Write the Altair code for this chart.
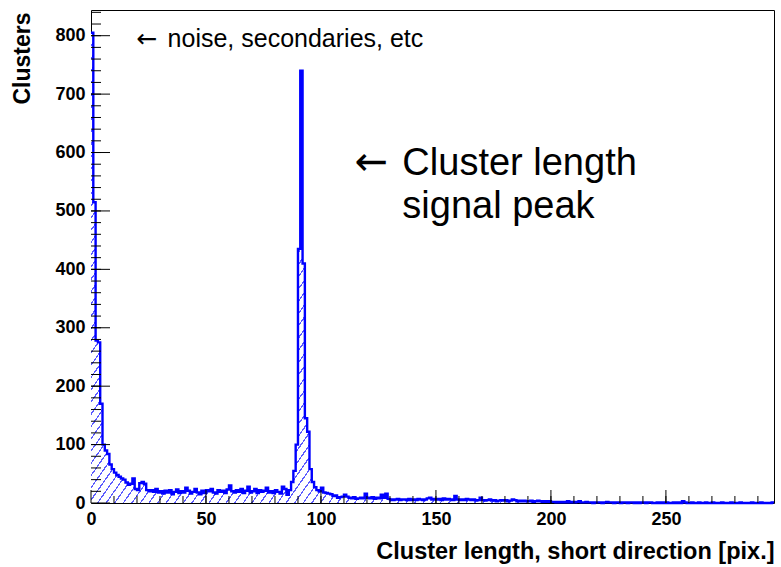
import altair as alt
import pandas as pd

# ---- histogram contents (bin width 1 pix, bins start at 0) ----
counts = [
    805, 515, 278, 275, 170, 100, 90, 84, 66, 58,      # 0-9
    52, 48, 45, 42, 40, 35, 31, 33, 42, 24,            # 10-19
    22, 34, 36, 33, 22, 20, 22, 19, 24, 18,            # 20-29
    20, 16, 21, 18, 22, 15, 19, 23, 17, 20,            # 30-39
    18, 26, 21, 16, 19, 24, 18, 15, 21, 17,            # 40-49
    22, 20, 24, 18, 16, 22, 19, 21, 17, 23,            # 50-59
    30, 20, 18, 22, 19, 24, 17, 21, 28, 18,            # 60-69
    20, 24, 17, 22, 19, 21, 26, 18, 20, 17,            # 70-79
    22, 19, 16, 28, 24, 14, 22, 36, 55, 100,           # 80-89
    435, 740, 410, 145, 122, 58, 36, 27, 22, 20,       # 90-99
    26, 18, 17, 16, 15, 12, 13, 9, 10, 11,             # 100-109
    14, 11, 9, 8, 10, 7, 8, 9, 8, 16,                  # 110-119
    9, 8, 10, 7, 9, 8, 14, 9, 16, 7,                   # 120-129
    6, 5, 6, 7, 5, 6, 6, 5, 7, 5,                      # 130-139
    6, 5, 7, 6, 5, 6, 8, 9, 6, 7,                      # 140-149
    6, 7, 5, 8, 6, 7, 6, 5, 12, 6,                     # 150-159
    5, 6, 5, 7, 6, 5, 6, 4, 5, 9,                      # 160-169
    5, 4, 5, 6, 4, 5, 3, 4, 5, 4,                      # 170-179
    5, 3, 4, 6, 5, 3, 4, 3, 4, 3,                      # 180-189
    3, 4, 2, 3, 4, 3, 2, 3, 2, 3,                      # 190-199
    2, 2, 1, 2, 1, 2, 1, 3, 1, 2,                      # 200-209
    1, 2, 3, 1, 1, 2, 1, 1, 0, 1,                      # 210-219
    1, 1, 0, 1, 2, 1, 1, 0, 1, 1,                      # 220-229
    0, 1, 1, 0, 1, 1, 0, 1, 0, 1,                      # 230-239
    1, 0, 1, 1, 0, 0, 1, 0, 1, 0,                      # 240-249
    1, 0, 0, 1, 0, 1, 0, 3, 1, 0,                      # 250-259
    0, 1, 0, 0, 1, 0, 0, 1, 0, 0,                      # 260-269
    1, 0, 0, 0, 1, 0, 0, 0, 1, 0,                      # 270-279
    0, 0, 1, 0, 0, 0, 0, 1, 0, 0,                      # 280-289
    0, 1, 0, 0, 0, 0, 1,                               # 290-296
]
bin_width = 1
x_max = 297
y_max = 844

x_labels = [0, 50, 100, 150, 200, 250]
x_minor = list(range(10, 300, 10))
y_labels = [0, 100, 200, 300, 400, 500, 600, 700, 800]
y_minor = list(range(20, 841, 20))

x_title = "Cluster length, short direction [pix.]"
y_title = "Clusters"
arrow = "\u2190"
note_small = "noise, secondaries, etc"
note_big_1 = "Cluster length"
note_big_2 = "signal peak"

FONT = "Liberation Sans"
ARROW_FONT = "DejaVu Sans"
BLUE = "#0000ff"
HATCH = "#5c5cff"

# ---- tables built from the arrays ----
edges = [i * bin_width for i in range(len(counts))] + [len(counts) * bin_width]
hist = pd.DataFrame({"x": edges, "n": counts + [counts[-1]]})

# hatch pattern via a striped linear gradient
n_str = 118
t_max = 0.962
period = t_max / n_str
stops = []
for k in range(n_str):
    o = k * period
    stops += [
        alt.GradientStop(offset=round(o, 6), color="white"),
        alt.GradientStop(offset=round(o, 6), color=HATCH),
        alt.GradientStop(offset=round(o + 0.17 * period, 6), color=HATCH),
        alt.GradientStop(offset=round(o + 0.17 * period, 6), color="white"),
    ]
stops.append(alt.GradientStop(offset=1, color="white"))
hatch_fill = alt.LinearGradient(gradient="linear", stops=stops, x1=0, y1=0, x2=1.25, y2=0.601)

xs = alt.Scale(domain=[0, x_max], nice=False, zero=False)
ys = alt.Scale(domain=[0, y_max], nice=False)

x_axis = alt.Axis(
    values=x_labels, title=x_title, grid=False, domain=False, ticks=False, tickSize=0,
    labelFont=FONT, labelFontSize=18, labelFontWeight="bold", labelColor="black",
    labelPadding=7, labelFlush=False,
    titleFont=FONT, titleFontSize=23.5, titleFontWeight="bold", titleColor="black",
    titleX=683, titleY=55, titleAlign="right", titleAnchor="end", titleBaseline="alphabetic",
)
y_axis = alt.Axis(
    values=y_labels, title=y_title, grid=False, domain=False, ticks=False, tickSize=0,
    labelFont=FONT, labelFontSize=18, labelFontWeight="bold", labelColor="black",
    labelPadding=6, labelFlush=False,
    titleFont=FONT, titleFontSize=23, titleFontWeight="bold", titleColor="black",
    titleAngle=270, titleX=-62, titleY=2, titleAlign="right", titleBaseline="alphabetic",
)


def X(field):
    return alt.X(field, scale=xs, axis=x_axis)


def Y(field):
    return alt.Y(field, scale=ys, axis=y_axis)


area = alt.Chart(hist).mark_area(interpolate="step-after", fill=hatch_fill, fillOpacity=1).encode(
    x=X("x:Q"), y=Y("n:Q"),
)
line = alt.Chart(hist).mark_line(interpolate="step-after", color=BLUE, strokeWidth=2.4).encode(
    x=X("x:Q"), y=Y("n:Q"),
)


def yticks(vals, length):
    return alt.Chart(pd.DataFrame({"v": vals})).mark_rule(color="black", strokeWidth=1).encode(
        y=Y("v:Q"), x=alt.value(0), x2=alt.value(length)
    )


def xticks(vals, length):
    return alt.Chart(pd.DataFrame({"v": vals})).mark_rule(color="black", strokeWidth=1).encode(
        x=X("v:Q"), y=alt.value(493), y2=alt.value(493 - length)
    )


def note(xv, yv, txt, size, font=FONT):
    return alt.Chart(pd.DataFrame({"x": [xv], "n": [yv], "t": [txt]})).mark_text(
        align="left", baseline="alphabetic", font=font, fontSize=size, color="black"
    ).encode(x=X("x:Q"), y=Y("n:Q"), text="t:N")


chart = alt.layer(
    area, line,
    yticks(y_labels, 19), yticks(y_minor, 10),
    xticks(x_labels, 13), xticks(x_minor, 7),
    note(19.8, 781, arrow, 25, ARROW_FONT),
    note(33.3, 781, note_small, 25),
    note(114.6, 562, arrow, 40, ARROW_FONT),
    note(135.4, 562, note_big_1, 38),
    note(135.4, 488, note_big_2, 38),
).properties(
    width=683, height=493,
    autosize=alt.AutoSizeParams(type="none"),
    padding={"left": 91, "top": 10, "right": 7, "bottom": 64},
    background="white",
).configure_view(stroke="black", strokeWidth=1)

chart.save("out.html", embed_options={"renderer": "svg", "actions": False})
